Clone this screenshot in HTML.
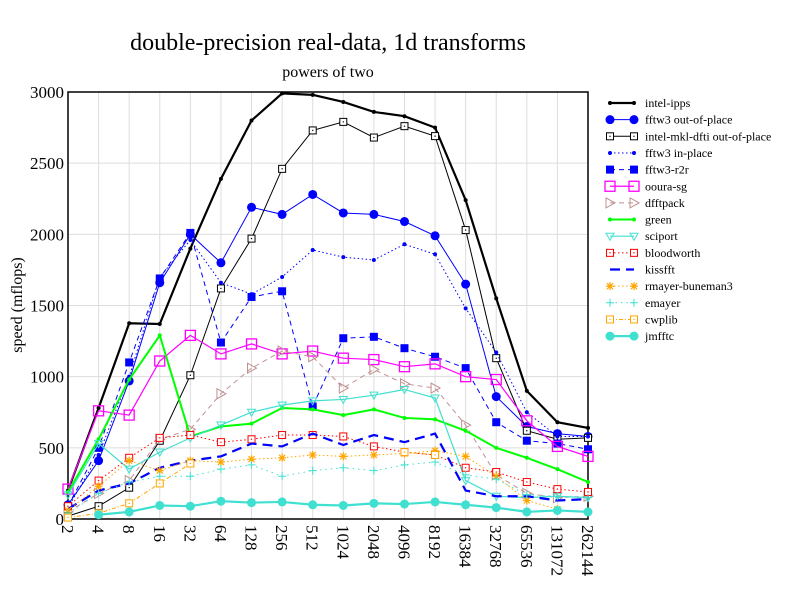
<!DOCTYPE html>
<html><head><meta charset="utf-8"><style>body{margin:0;background:#fff}svg{display:block}text{font-family:"Liberation Serif",serif}</style></head>
<body><svg id="s" width="792" height="612" xmlns="http://www.w3.org/2000/svg"></svg>
<script>
const S=document.getElementById('s');let h='';
const X0=68,X1=588,Y0=519,Y1=92,st=(X1-X0)/17;
const px=i=>X0+i*st, py=v=>Y0-v*(Y0-Y1)/3000;
h+='<text x="328" y="50" font-size="24" text-anchor="middle">double-precision real-data, 1d transforms</text>';
h+='<text x="328" y="77" font-size="16" text-anchor="middle">powers of two</text>';
h+='<text transform="translate(22,305) rotate(-90)" font-size="16" text-anchor="middle">speed (mflops)</text>';
for(let i=0;i<18;i++){h+=`<line x1="${px(i)}" y1="${Y1}" x2="${px(i)}" y2="${Y0}" stroke="#ddd"/>`;
h+=`<text transform="translate(${px(i)-6},${Y0+6}) rotate(90)" font-size="17">${2**(i+1)}</text>`;}
for(let v=0;v<=3000;v+=500){h+=`<line x1="${X0}" y1="${py(v)}" x2="${X1}" y2="${py(v)}" stroke="#ddd"/>`;
h+=`<text x="${X0-4}" y="${py(v)+6}" font-size="17" text-anchor="end">${v}</text>`;}
h+=`<rect x="${X0}" y="${Y1}" width="${X1-X0}" height="${Y0-Y1}" fill="none" stroke="#000" stroke-width="1.5"/>`;
function mk(t,x,y,c){switch(t){
case'dot':return `<circle cx="${x}" cy="${y}" r="2" fill="${c}"/>`;
case'bdot':return `<circle cx="${x}" cy="${y}" r="4.5" fill="${c}"/>`;
case'sq':return `<rect x="${x-3.5}" y="${y-3.5}" width="7" height="7" fill="#fff" stroke="${c}"/><circle cx="${x}" cy="${y}" r=".7" fill="${c}"/>`;
case'fsq':return `<rect x="${x-4}" y="${y-4}" width="8" height="8" fill="${c}"/>`;
case'bsq':return `<rect x="${x-5}" y="${y-5}" width="10" height="10" fill="none" stroke="${c}" stroke-width="1.3"/>`;
case'tr':return `<path d="M${x-4},${y-5}L${x+5},${y}L${x-4},${y+5}Z" fill="none" stroke="${c}"/>`;
case'td':return `<path d="M${x-4},${y-3}L${x+4},${y-3}L${x},${y+4}Z" fill="none" stroke="${c}"/>`;
case'ast':return `<path d="M${x-4},${y}H${x+4}M${x},${y-4}V${y+4}M${x-3},${y-3}L${x+3},${y+3}M${x-3},${y+3}L${x+3},${y-3}" stroke="${c}" stroke-width="1.2"/>`;
case'plus':return `<path d="M${x-4},${y}H${x+4}M${x},${y-4}V${y+4}" stroke="${c}"/>`;
default:return '';}}
const D=[
['intel-ipps','#000',2.2,'','dot',[200,780,1375,1370,1900,2390,2800,2990,2980,2930,2860,2830,2750,2240,1550,900,680,640]],
['fftw3 out-of-place','#00f',1,'','bdot',[100,410,970,1660,2000,1800,2190,2140,2280,2150,2140,2090,1990,1650,860,650,600,580]],
['intel-mkl-dfti out-of-place','#000',1,'','sq',[20,90,220,550,1010,1620,1970,2460,2730,2790,2680,2760,2690,2030,1130,620,560,570]],
['fftw3 in-place','#00f',1,'1.5,2.5','dot',[80,450,1000,1700,1960,1660,1580,1700,1890,1840,1820,1930,1860,1480,1170,750,580,580]],
['fftw3-r2r','#00f',1,'5,4','fsq',[90,500,1100,1690,2010,1240,1560,1600,790,1270,1280,1200,1140,1060,680,550,530,490]],
['ooura-sg','#f0f',1.2,'','bsq',[210,760,730,1110,1290,1160,1230,1160,1180,1130,1120,1070,1090,1000,980,690,510,440]],
['dfftpack','#c09090',1,'5,4','tr',[50,180,270,560,630,880,1060,1180,1140,920,1050,950,920,660,310,180,150,160]],
['green','#0f0',2,'','dot',[190,560,980,1290,580,650,670,780,770,730,770,710,700,620,500,430,350,260]],
['sciport','#40e0d0',1.2,'','td',[170,530,350,470,570,660,750,800,830,840,870,910,850,270,160,150,160,150]],
['bloodworth','#f00',1,'1.5,2.5','sq',[90,270,430,570,590,540,560,590,590,580,510,470,450,360,330,260,210,190]],
['kissfft','#00f',2.2,'10,6','',[70,200,250,360,410,440,530,510,600,520,590,540,600,200,160,160,130,140]],
['rmayer-buneman3','#ffa500',1,'1.5,2.5','ast',[60,230,410,340,410,400,420,430,450,440,450,460,480,440,300,130,70,null]],
['emayer','#40e0d0',1,'1.5,4','plus',[40,180,260,300,300,350,380,300,340,360,340,380,400,310,280,170,160,150]],
['cwplib','#ffa500',1,'4,2,1,2','sq',[10,40,110,250,390,null,null,null,null,null,null,470,450,null,null,null,null,null]],
['jmfftc','#40e0d0',2.2,'','bdot',[null,30,50,95,90,125,115,120,100,95,110,105,120,100,80,50,60,50]]];
D.forEach((d,k)=>{const[n,c,w,da,m,v]=d;let segs=[],cur=[];
v.forEach((y,i)=>{if(y==null){if(cur.length)segs.push(cur);cur=[]}else cur.push([px(i),py(y)])});if(cur.length)segs.push(cur);
segs.forEach(s=>{h+=`<polyline points="${s.map(p=>p.join(',')).join(' ')}" fill="none" stroke="${c}" stroke-width="${w}" stroke-dasharray="${da}"/>`;s.forEach(p=>h+=mk(m,p[0],p[1],c));});
const ly=103+k*16.65;
h+=`<line x1="610" y1="${ly}" x2="634" y2="${ly}" stroke="${c}" stroke-width="${w}" stroke-dasharray="${da}"/>`+mk(m,610,ly,c)+mk(m,634,ly,c);
h+=`<text x="645" y="${ly+4}" font-size="12">${n}</text>`;});
S.innerHTML=h;
</script></body></html>
